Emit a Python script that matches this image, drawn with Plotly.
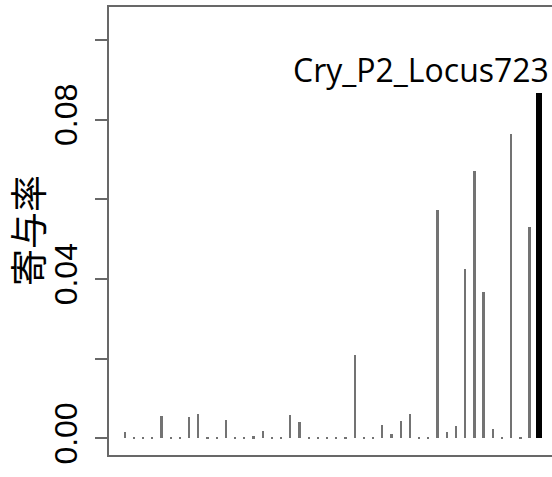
import plotly.graph_objects as go

# ---- data ----
locus_index = list(range(1, 47))
contribution = [
    0.0017, 0.0004, 0.0004, 0.0004, 0.0056, 0.0004, 0.0004, 0.0053, 0.0061, 0.0004,
    0.0004, 0.0046, 0.0004, 0.0004, 0.0005, 0.0018, 0.0004, 0.0004, 0.0058, 0.0041,
    0.0004, 0.0004, 0.0004, 0.0004, 0.0004, 0.0209, 0.0004, 0.0004, 0.0033, 0.0012,
    0.0043, 0.0060, 0.0004, 0.0004, 0.0572, 0.0016, 0.0030, 0.0424, 0.0672, 0.0368,
    0.0024, 0.0004, 0.0763, 0.0004, 0.0530, 0.0866,
]
highlight_label = "Cry_P2_Locus723"
y_tick_vals = [0.00, 0.02, 0.04, 0.06, 0.08, 0.10]
y_tick_text = ["0.00", "", "0.04", "", "0.08", ""]
y_title = "寄与率"
x_title = "遺伝子座"

# ---- styling derived from data ----
top_val = max(contribution)
top_pos = locus_index[contribution.index(top_val)]
colors = ["#000000" if v == top_val else "#737373" for v in contribution]
widths = [0.72 if v == top_val else 0.19 for v in contribution]

axis_col = "#686868"

fig = go.Figure()
fig.add_trace(go.Bar(
    x=locus_index, y=contribution,
    width=widths,
    marker=dict(color=colors, line=dict(width=0)),
    showlegend=False,
))

fig.add_annotation(
    x=top_pos, y=top_val, xref="x", yref="y",
    text=highlight_label, showarrow=False,
    xanchor="right", yanchor="bottom", xshift=12, yshift=0,
    font=dict(family="Open Sans", size=32, color="#000000"),
)
fig.add_annotation(
    x=-0.185, y=0.5, xref="paper", yref="paper",
    text=y_title, showarrow=False, textangle=-90,
    xanchor="center", yanchor="middle",
    font=dict(family="Noto Sans CJK JP", size=37, color="#000000"),
)
fig.add_annotation(
    x=0.506, y=-0.042, xref="paper", yref="paper",
    text=x_title, showarrow=False,
    xanchor="center", yanchor="top",
    font=dict(family="Noto Sans CJK JP", size=37, color="#000000"),
)

fig.update_layout(
    width=552, height=477,
    margin=dict(l=109, r=0, t=7, b=22, pad=0),
    paper_bgcolor="white", plot_bgcolor="white",
    bargap=0,
    xaxis=dict(
        range=[-0.739, 47.41],
        showline=True, mirror=True, linecolor=axis_col, linewidth=2,
        showticklabels=False, ticks="", showgrid=False, zeroline=False,
    ),
    yaxis=dict(
        range=[-0.0042, 0.1083],
        showline=True, mirror=False, linecolor=axis_col, linewidth=2,
        ticks="outside", ticklen=12, tickwidth=2, tickcolor=axis_col,
        tickvals=y_tick_vals, ticktext=y_tick_text, tickangle=-90,
        tickfont=dict(family="Liberation Sans", size=32, color="#000000"),
        ticklabelstandoff=5,
        showgrid=False, zeroline=False,
    ),
)

fig.write_html("out.html")
